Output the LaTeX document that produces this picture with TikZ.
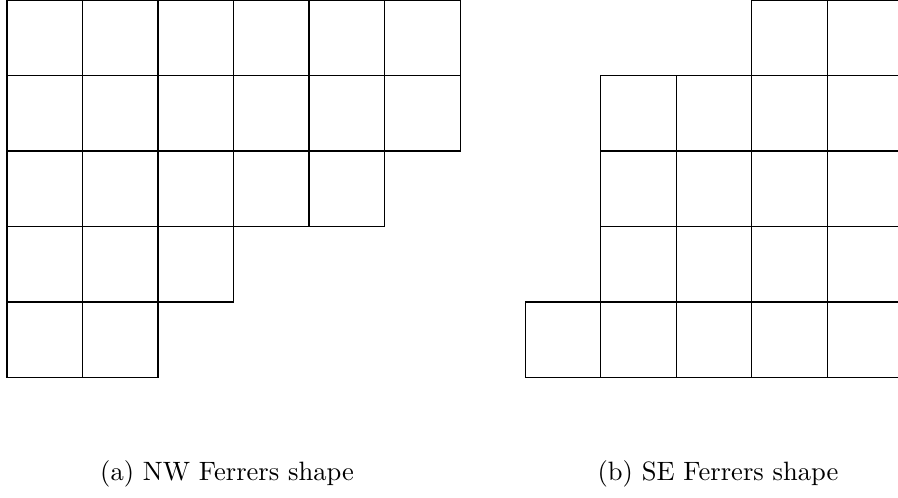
\documentclass[tikz,border=0pt]{standalone}
\begin{document}
\begin{tikzpicture}[
  cellbox/.style={draw, line width=0.4pt},
  caption/.style={font=\normalsize, anchor=center},
]
\useasboundingbox (-0.093,0) rectangle (11.801,-6.596);
\clip (-0.093,0.01) rectangle (11.801,-6.596);

% NW Ferrers shape: row / number of cells
\foreach \r/\len in {0/6,1/6,2/5,3/3,4/2}{
  \foreach \c in {1,...,\len}{
    \draw[cellbox] (\c-1,-\r) rectangle ++(1,-1);
  }
}

% SE Ferrers shape: row / first column
\foreach \r/\first in {0/3,1/1,2/1,3/1,4/0}{
  \foreach \c in {\first,...,4}{
    \draw[cellbox] (6.861+\c,-\r) rectangle ++(1,-1);
  }
}

% Captions
\node[caption] (capnw) at (2.914,-6.278) {(a) NW Ferrers shape};
\node[caption] (capse) at (9.417,-6.278) {(b) SE Ferrers shape};
\end{tikzpicture}
\end{document}
